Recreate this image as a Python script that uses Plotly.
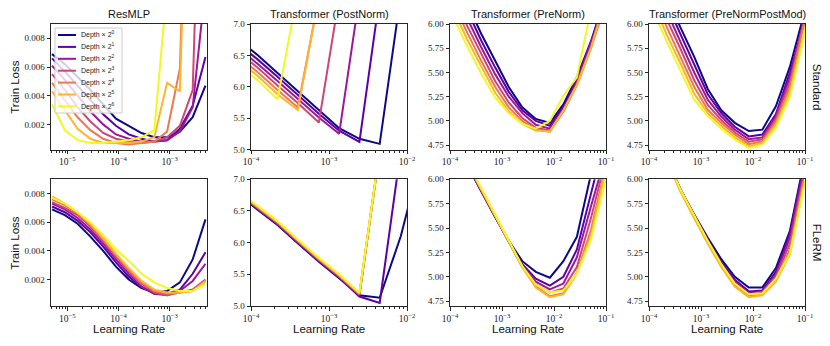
import plotly.graph_objects as go
from plotly.subplots import make_subplots

# ---------------------------------------------------------------------------------------
# DATA

depth_labels = ["Depth × 2<sup>%d</sup>" % i for i in range(7)]
depth_colors = ["#0d0887", "#5c01a6", "#9c179e", "#cc4778", "#ed7953", "#fdb42f", "#f0f921"]

# learning-rate grids (log10)
resmlp_loglr = [-5.3, -5.05, -4.8, -4.55, -4.3, -4.05, -3.8, -3.55, -3.3, -3.05, -2.8, -2.55, -2.3]
tf_loglr = [-4.18, -3.92, -3.66, -3.40, -3.13, -2.87, -2.61, -2.35, -2.08, -1.82, -1.56, -1.29, -1.03, -0.77]

# ResMLP, standard
resmlp_std = [
    [0.0069, 0.0062, 0.0053, 0.0044, 0.0034, 0.0024, 0.0019, 0.0014, 0.0011, 0.0011, 0.0015, 0.0025, 0.0047],
    [0.0066, 0.0057, 0.0047, 0.0037, 0.0027, 0.0019, 0.0013, 0.0010, 0.0008, 0.0009, 0.0017, 0.0033, 0.0067],
    [0.0061, 0.0051, 0.0040, 0.0029, 0.0020, 0.0013, 0.0010, 0.0008, 0.0008, 0.0009, 0.0015, 0.0032, 0.0117],
    [0.0055, 0.0044, 0.0032, 0.0022, 0.0014, 0.0010, 0.0008, 0.0007, 0.0008, 0.0011, 0.0019, 0.0044, 0.0330],
    [0.0049, 0.0037, 0.0025, 0.0016, 0.0010, 0.0007, 0.0006, 0.0007, 0.0008, 0.0015, 0.0059, 0.0340],
    [0.0043, 0.0030, 0.0017, 0.0010, 0.0007, 0.0007, 0.0007, 0.0008, 0.0011, 0.0049, 0.0043, 0.0340],
    [0.0034, 0.0016, 0.0009, 0.0007, 0.0007, 0.0008, 0.0009, 0.0011, 0.0016, 0.0116],
]
# ResMLP, FLeRM
resmlp_flerm = [
    [0.0069, 0.0065, 0.0059, 0.0050, 0.0040, 0.0029, 0.0020, 0.0014, 0.0011, 0.0012, 0.0018, 0.0034, 0.0062],
    [0.0071, 0.0067, 0.0061, 0.0053, 0.0043, 0.0032, 0.0022, 0.0015, 0.0010, 0.0010, 0.0013, 0.0024, 0.0039],
    [0.0073, 0.0069, 0.0063, 0.0055, 0.0045, 0.0034, 0.0024, 0.0015, 0.0010, 0.0009, 0.0012, 0.0019, 0.0031],
    [0.0074, 0.0070, 0.0065, 0.0057, 0.0047, 0.0036, 0.0026, 0.0017, 0.0011, 0.0009, 0.0011, 0.0013, 0.0020],
    [0.0076, 0.0072, 0.0066, 0.0058, 0.0048, 0.0037, 0.0027, 0.0018, 0.0012, 0.0010, 0.0011, 0.0012, 0.0019],
    [0.0078, 0.0073, 0.0067, 0.0059, 0.0049, 0.0038, 0.0028, 0.0019, 0.0013, 0.0011, 0.0011, 0.0012, 0.0019],
    [0.0077, 0.0073, 0.0067, 0.0060, 0.0051, 0.0041, 0.0033, 0.0024, 0.0018, 0.0014, 0.0012, 0.0012, 0.0017],
]
# Transformer (PostNorm)
postnorm_std = [
    [6.77, 6.51, 6.22, 5.93, 5.62, 5.34, 5.17, 5.09, 7.46],
    [6.70, 6.44, 6.16, 5.87, 5.57, 5.30, 5.12, 7.44],
    [6.63, 6.37, 6.09, 5.80, 5.51, 5.25, 7.44],
    [6.56, 6.31, 6.02, 5.74, 5.43, 7.42],
    [6.49, 6.24, 5.95, 5.67, 7.43],
    [6.43, 6.18, 5.88, 5.63, 7.43],
    [6.36, 6.11, 5.80, 7.51],
]
postnorm_flerm = [
    [6.77, 6.53, 6.28, 5.99, 5.70, 5.44, 5.17, 5.13, 6.10, 7.35],
    [6.78, 6.54, 6.29, 6.00, 5.71, 5.45, 5.15, 5.05, 7.46],
    [6.79, 6.55, 6.30, 6.01, 5.72, 5.46, 5.17, 7.45],
    [6.80, 6.56, 6.31, 6.02, 5.73, 5.47, 5.18, 7.45],
    [6.81, 6.57, 6.32, 6.03, 5.74, 5.48, 5.19, 7.45],
    [6.82, 6.58, 6.33, 6.04, 5.75, 5.49, 5.20, 7.45],
    [6.83, 6.59, 6.34, 6.05, 5.76, 5.50, 5.21, 7.45],
]
# Transformer (PreNorm)
prenorm_std = [
    [6.95, 6.55, 6.20, 5.90, 5.62, 5.35, 5.14, 5.02, 4.98, 5.17, 5.45, 5.82, 6.25, 6.70],
    [6.85, 6.46, 6.13, 5.83, 5.55, 5.30, 5.11, 5.00, 4.95, 5.14, 5.43, 5.80, 6.22, 6.70],
    [6.75, 6.38, 6.05, 5.76, 5.48, 5.25, 5.08, 4.96, 4.92, 5.12, 5.40, 5.78, 6.20, 6.70],
    [6.65, 6.29, 5.97, 5.69, 5.41, 5.19, 5.03, 4.93, 4.90, 5.10, 5.38, 5.76, 6.18, 6.70],
    [6.55, 6.20, 5.90, 5.62, 5.35, 5.14, 5.00, 4.91, 4.89, 5.10, 5.37, 5.75, 6.17, 6.70],
    [6.46, 6.13, 5.83, 5.56, 5.29, 5.10, 4.97, 4.90, 4.89, 5.11, 5.37, 5.75, 6.16, 6.70],
    [6.38, 6.05, 5.76, 5.49, 5.24, 5.08, 4.97, 4.92, 5.00, 5.26, 5.45, 6.15, 6.60],
]
prenorm_flerm = [
    [7.00, 6.55, 6.14, 5.88, 5.61, 5.37, 5.16, 5.05, 4.99, 5.16, 5.41, 6.05, 6.60, 7.20],
    [7.00, 6.55, 6.14, 5.88, 5.61, 5.36, 5.13, 4.98, 4.91, 5.00, 5.28, 5.85, 6.40],
    [7.00, 6.56, 6.15, 5.89, 5.62, 5.36, 5.11, 4.95, 4.87, 4.93, 5.20, 5.72, 6.20],
    [7.00, 6.56, 6.15, 5.89, 5.62, 5.36, 5.10, 4.92, 4.84, 4.88, 5.10, 5.60, 6.15],
    [7.00, 6.57, 6.16, 5.90, 5.63, 5.37, 5.10, 4.90, 4.80, 4.83, 5.04, 5.48, 6.08],
    [7.00, 6.57, 6.16, 5.90, 5.63, 5.37, 5.10, 4.89, 4.79, 4.82, 5.03, 5.42, 6.04],
    [7.00, 6.58, 6.17, 5.91, 5.64, 5.38, 5.11, 4.92, 4.84, 4.86, 5.03, 5.38, 5.98, 6.50],
]
# Transformer (PreNormPostMod)
postmod_std = [
    [7.10, 6.70, 6.30, 5.97, 5.66, 5.33, 5.11, 4.98, 4.895, 4.91, 5.15, 5.56, 6.02, 6.60],
    [7.00, 6.60, 6.22, 5.90, 5.58, 5.275, 5.08, 4.94, 4.84, 4.86, 5.07, 5.50, 5.98, 6.60],
    [6.90, 6.505, 6.135, 5.82, 5.50, 5.22, 5.045, 4.91, 4.81, 4.83, 5.05, 5.45, 5.95, 6.60],
    [6.80, 6.41, 6.05, 5.75, 5.42, 5.165, 5.01, 4.88, 4.785, 4.81, 5.02, 5.40, 5.92, 6.60],
    [6.70, 6.31, 5.97, 5.67, 5.35, 5.115, 4.98, 4.86, 4.76, 4.79, 4.99, 5.35, 5.90, 6.60],
    [6.60, 6.22, 5.89, 5.60, 5.28, 5.08, 4.95, 4.83, 4.74, 4.77, 4.96, 5.30, 5.87, 6.60],
    [6.51, 6.14, 5.82, 5.52, 5.22, 5.05, 4.92, 4.81, 4.72, 4.755, 4.93, 5.25, 5.84, 6.60],
]
postmod_flerm = [
    [7.10, 6.62, 6.22, 5.90, 5.64, 5.40, 5.18, 5.00, 4.89, 4.89, 5.09, 5.47, 6.15, 6.70],
    [7.10, 6.62, 6.22, 5.90, 5.63, 5.38, 5.15, 4.97, 4.85, 4.86, 5.05, 5.45, 6.12],
    [7.10, 6.62, 6.22, 5.90, 5.63, 5.37, 5.13, 4.95, 4.83, 4.85, 5.02, 5.40, 6.08],
    [7.10, 6.62, 6.21, 5.89, 5.62, 5.36, 5.12, 4.93, 4.82, 4.84, 5.00, 5.34, 6.02],
    [7.10, 6.61, 6.21, 5.89, 5.61, 5.35, 5.11, 4.91, 4.80, 4.82, 4.97, 5.28, 5.98],
    [7.10, 6.61, 6.20, 5.88, 5.60, 5.34, 5.10, 4.90, 4.79, 4.81, 4.95, 5.23, 5.92],
    [7.10, 6.62, 6.22, 5.90, 5.63, 5.37, 5.13, 4.93, 4.82, 4.83, 4.98, 5.24, 5.90, 6.50],
]

col_titles = ["ResMLP", "Transformer (PostNorm)", "Transformer (PreNorm)", "Transformer (PreNormPostMod)"]
row_titles = ["Standard", "FLeRM"]

# ---------------------------------------------------------------------------------------
# GRAPH
# the page body has an 8px margin, so the figure is drawn 8px smaller and all
# screen positions below are shifted by OFF
OFF = 8
W, H = 830 - OFF, 346 - OFF
serif = "Liberation Serif"
sans = "Liberation Sans"
frame = "#262626"


def px(x):
    return (x - OFF) / W


def py(y):
    return 1 - (y - OFF) / H


fig = make_subplots(rows=2, cols=4)

panels = [
    (1, 1, resmlp_std, resmlp_loglr), (1, 2, postnorm_std, tf_loglr),
    (1, 3, prenorm_std, tf_loglr), (1, 4, postmod_std, tf_loglr),
    (2, 1, resmlp_flerm, resmlp_loglr), (2, 2, postnorm_flerm, tf_loglr),
    (2, 3, prenorm_flerm, tf_loglr), (2, 4, postmod_flerm, tf_loglr),
]
for row, col, curves, loglr in panels:
    for i, ys in enumerate(curves):
        xs = [10 ** v for v in loglr[:len(ys)]]
        fig.add_trace(go.Scatter(x=xs, y=ys, mode="lines", name=depth_labels[i],
                                 line=dict(color=depth_colors[i], width=2), showlegend=False),
                      row=row, col=col)

# pixel boxes of the panels (screen coordinates)
col_px = [(51, 207), (251, 407), (450, 606), (649, 805)]
row_px = [(24, 149.5), (179.3, 306)]
x_ranges = [[-5.32, -2.27], [-4, -2], [-4, -1], [-4, -1]]
y_ranges = [
    [[0.00025, 0.009], [5.0, 7.0], [4.705, 6.0], [4.705, 6.0]],
    [[0.00015, 0.009], [5.0, 7.0], [4.70, 6.0], [4.70, 6.0]],
]
y_ticks = [[0.002, 0.004, 0.006, 0.008], [5.0, 5.5, 6.0, 6.5, 7.0],
           [4.75, 5.0, 5.25, 5.5, 5.75, 6.0], [4.75, 5.0, 5.25, 5.5, 5.75, 6.0]]
y_fmt = [".3f", ".1f", ".2f", ".2f"]

axis_common = dict(showline=True, mirror=True, linecolor=frame, linewidth=1, showgrid=False,
                   zeroline=False, ticks="outside", ticklen=3.5, tickwidth=0.8, tickcolor=frame,
                   tickfont=dict(family=serif, size=9, color="#222"))
for r in range(2):
    for c in range(4):
        x0, x1 = col_px[c]
        y0, y1 = row_px[r]
        fig.update_xaxes(axis_common, type="log", range=x_ranges[c], dtick=1, exponentformat="power",
                         tickfont=dict(family=serif, size=7.6, color="#222"),
                         minor=dict(ticks="outside", ticklen=2, tickwidth=0.6, tickcolor=frame, showgrid=False),
                         domain=[px(x0), px(x1)], row=r + 1, col=c + 1)
        fig.update_yaxes(axis_common, range=y_ranges[r][c], tickvals=y_ticks[c], tickformat=y_fmt[c],
                         domain=[py(y1), py(y0)], row=r + 1, col=c + 1)

annotations = []
txt = dict(xref="paper", yref="paper", showarrow=False, xanchor="center", yanchor="middle")
for c, t in enumerate(col_titles):
    annotations.append(dict(txt, text=t, x=px(sum(col_px[c]) / 2), y=py(14),
                            font=dict(family=sans, size=11, color="#111")))
for r, t in enumerate(row_titles):
    yc = py(sum(row_px[r]) / 2)
    annotations.append(dict(txt, text=t, x=px(817), y=yc, textangle=90,
                            font=dict(family=sans, size=11.5, color="#111")))
    annotations.append(dict(txt, text="Train Loss", x=px(15), y=yc, textangle=-90,
                            font=dict(family=sans, size=11.5, color="#111")))
for c in range(4):
    annotations.append(dict(txt, text="Learning Rate", x=px(sum(col_px[c]) / 2), y=py(329),
                            font=dict(family=sans, size=11.5, color="#111")))

# legend box inside the first panel
shapes = [dict(type="rect", xref="paper", yref="paper", x0=px(55), x1=px(122), y0=py(113), y1=py(28),
               fillcolor="rgba(255,255,255,0.8)", line=dict(color="#cccccc", width=1), layer="above")]
for i, (lab, colr) in enumerate(zip(depth_labels, depth_colors)):
    yy = py(35 + 11.9 * i)
    shapes.append(dict(type="line", xref="paper", yref="paper", x0=px(58), x1=px(76), y0=yy, y1=yy,
                       line=dict(color=colr, width=2), layer="above"))
    annotations.append(dict(xref="paper", yref="paper", showarrow=False, xanchor="left", yanchor="middle",
                            text=lab, x=px(79), y=yy, font=dict(family=sans, size=7, color="#222")))

fig.update_layout(
    width=W, height=H, template="none", plot_bgcolor="white", paper_bgcolor="white",
    margin=dict(l=0, r=0, t=0, b=0), annotations=annotations, shapes=shapes, showlegend=False,
)

fig.write_html("out.html")
